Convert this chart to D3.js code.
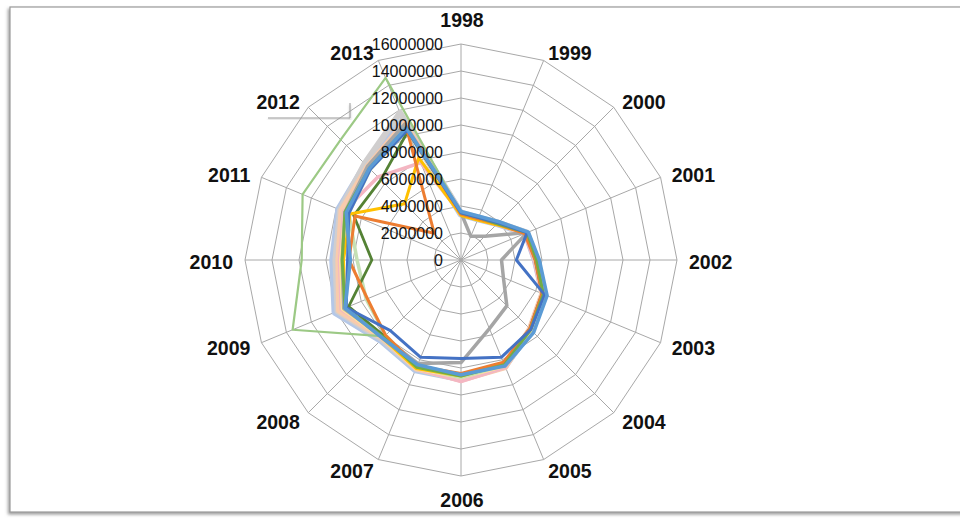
<!DOCTYPE html>
<html><head><meta charset="utf-8">
<script src="https://cdn.jsdelivr.net/npm/d3@7"></script>
<style>body{margin:0;background:#fff;} svg{display:block;}</style>
</head><body><svg id="chart" width="960" height="520"></svg>
<script>
// ---- data ----
const years = ["1998","1999","2000","2001","2002","2003","2004","2005","2006","2007","2008","2009","2010","2011","2012","2013"];
const tickValues = [0,2000000,4000000,6000000,8000000,10000000,12000000,14000000,16000000];
const tickLabels = ["0","2000000","4000000","6000000","8000000","10000000","12000000","14000000","16000000"];

const lavender   = [3400000,3300000,3800000,5200000,5500000,6600000,7300000,8500000,8800000,8800000,8400000,10100000,9500000,9800000,10000000,11200000];
const lightGray  = [3500000,3400000,3900000,5300000,5600000,6700000,7400000,8500000,8800000,8700000,8300000,9900000,9300000,9700000,10100000,11800000];
const peach      = [3400000,3300000,3800000,5200000,5500000,6500000,7200000,8600000,8900000,8700000,8200000,9800000,9100000,9600000,9800000,11000000];
const pink       = [3400000,3300000,3800000,5100000,5400000,6500000,7200000,8600000,9000000,8700000,8100000,9600000,9000000,9400000,8700000,7800000];
const lightGold  = [3400000,3300000,3800000,5200000,5500000,6600000,7300000,8500000,8700000,8700000,8200000,9500000,8900000,9300000,9600000,10500000];
const paleGreen  = [3500000,3400000,3800000,5200000,5500000,6600000,7300000,8400000,8700000,8600000,7900000,7600000,7700000,9000000,9500000,10400000];
const lightGreen = [3500000,3400000,3800000,5200000,5500000,6600000,7200000,8300000,8600000,8600000,8000000,13500000,11800000,12700000,12600000,14600000];
const gray       = [3500000,1900000,2500000,5300000,3000000,3400000,4800000,5500000,7600000,8300000,8100000,9400000,8800000,9300000,9800000,10900000];
const darkGreen  = [3500000,3400000,3800000,5200000,5500000,6500000,7200000,8300000,8500000,8500000,8000000,9000000,6600000,8600000,8400000,10300000];
const gold       = [3300000,3200000,3700000,5200000,5600000,6600000,7300000,8300000,8600000,8700000,8200000,9300000,8700000,8900000,5900000,8200000];
const orange     = [3400000,3300000,3800000,5100000,5500000,6500000,7200000,8200000,8400000,8500000,7900000,7500000,8300000,8500000,2800000,10500000];
const green      = [3500000,3400000,3800000,5300000,5600000,6600000,7300000,8400000,8600000,8600000,8100000,9300000,8800000,9300000,9600000,10600000];
const darkBlue   = [3500000,3400000,3900000,5300000,4100000,6700000,7300000,7800000,7300000,7800000,7400000,9200000,8400000,9000000,9500000,10400000];
const blue       = [3600000,3500000,4000000,5400000,5800000,6900000,7600000,8500000,8500000,8400000,8200000,9300000,8200000,9200000,9600000,10600000];

const seriesList = [lavender, lightGray, peach, pink, lightGold, paleGreen, lightGreen, gray, darkGreen, gold, orange, green, darkBlue, blue];
const seriesColors = ["#B4C7E7","#D0CECE","#F8CBAD","#F4B6C2","#FFE699","#C5E0B4","#9CC985","#A5A5A5","#548235","#FFC000","#ED7D31","#70AD47","#4472C4","#5B9BD5"];
const seriesWidths = [7,6,5.5,3.5,3.5,3.5,2.2,3.5,2.8,3,3,3,3,3.6];

// ---- layout ----
const svg = d3.select("#chart");
const cx = 461, cy = 260, R = 216;
const n = years.length;
const r = d3.scaleLinear().domain([0, 16000000]).range([0, R]);
const ang = d3.scalePoint().domain(years).range([0, 2 * Math.PI * (n - 1) / n]);

// frame with shadow
const defs = svg.append("defs");
const f = defs.append("filter").attr("id","sh").attr("x","-5%").attr("y","-5%").attr("width","110%").attr("height","110%");
f.append("feDropShadow").attr("dx",-1.5).attr("dy",2).attr("stdDeviation",1.5).attr("flood-color","#777").attr("flood-opacity",0.7);
svg.append("rect").attr("x",10).attr("y",7).attr("width",970).attr("height",505)
  .attr("fill","#fff").attr("stroke","#9a9a9a").attr("stroke-width",1.2).attr("filter","url(#sh)");

const g = svg.append("g").attr("transform", `translate(${cx},${cy})`);

// grid rings
tickValues.slice(1).forEach(v => {
  g.append("path").datum(years)
    .attr("d", d3.lineRadial().angle(d => ang(d)).radius(() => r(v)).curve(d3.curveLinearClosed))
    .attr("fill","none").attr("stroke","#a8a8a8").attr("stroke-width",1);
});
// spokes
g.selectAll("line.spoke").data(years).join("line").attr("class","spoke")
  .attr("x1",0).attr("y1",0)
  .attr("x2", d => r(16000000) * Math.sin(ang(d)))
  .attr("y2", d => -r(16000000) * Math.cos(ang(d)))
  .attr("stroke","#a8a8a8").attr("stroke-width",1);

// series
const line = d3.lineRadial().angle((d, i) => ang(years[i])).radius(d => r(d)).curve(d3.curveLinearClosed);
seriesList.forEach((s, k) => {
  g.append("path").datum(s).attr("d", line)
    .attr("fill","none").attr("stroke", seriesColors[k]).attr("stroke-width", seriesWidths[k])
    .attr("stroke-linejoin","round");
});

// tick labels
g.selectAll("text.tick").data(tickValues).join("text").attr("class","tick")
  .attr("x", -18).attr("y", d => -r(d)).attr("dy","0.35em")
  .attr("text-anchor","end")
  .attr("font-family","'Liberation Sans', Arial, sans-serif").attr("font-size",16).attr("fill","#111")
  .text((d, i) => tickLabels[i]);

// category labels
g.selectAll("text.cat").data(years).join("text").attr("class","cat")
  .each(function(d) {
    const a = ang(d), s = Math.sin(a), c = Math.cos(a);
    const el = d3.select(this);
    if (Math.abs(s) < 0.01) {
      el.attr("x", 1).attr("y", -c * 228 - Math.sign(c) * 12).attr("text-anchor","middle");
    } else {
      el.attr("x", s * 228).attr("y", -c * 226 + 2).attr("text-anchor", s > 0 ? "start" : "end");
    }
  })
  .attr("dy","0.35em")
  .attr("font-family","'Liberation Sans', Arial, sans-serif").attr("font-weight","bold").attr("font-size",19.5).attr("fill","#111")
  .text(d => d);

// leftover leader line near 2012
const f2 = defs.append("filter").attr("id","sh2");
f2.append("feDropShadow").attr("dx",0).attr("dy",2).attr("stdDeviation",1).attr("flood-color","#888").attr("flood-opacity",0.6);
svg.append("path").attr("d", d3.line()([[268,118],[350,118],[350,103]]))
  .attr("fill","none").attr("stroke","#9a9a9a").attr("stroke-width",1).attr("filter","url(#sh2)");
</script></body></html>
